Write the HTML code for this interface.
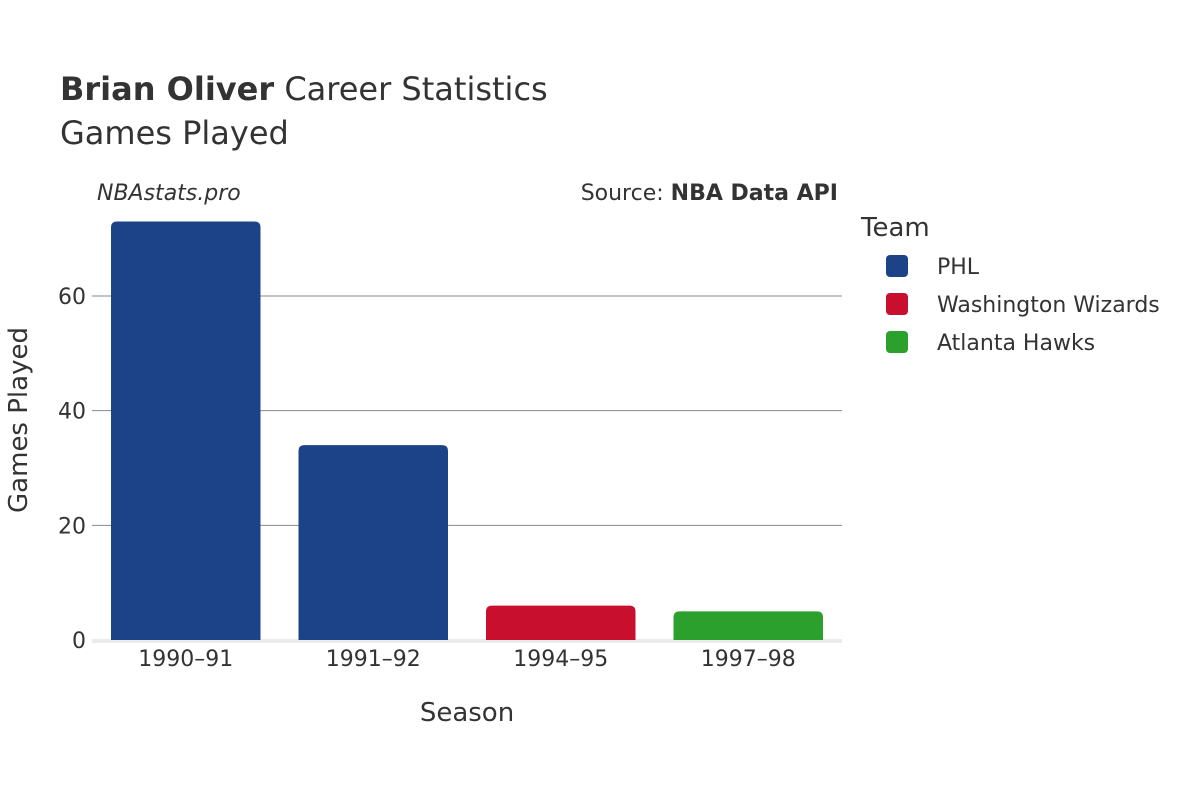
<!DOCTYPE html>
<html><head><meta charset="utf-8"><style>
body{margin:0;background:#fff}
svg{font-family:"DejaVu Sans","Liberation Sans",sans-serif}
</style></head><body>
<svg width="1200" height="800" xmlns="http://www.w3.org/2000/svg" id="chart">
<text x="60" y="100" font-size="32" fill="#333"><tspan font-weight="bold">Brian Oliver</tspan> Career Statistics</text>
<text x="60" y="144" font-size="32" fill="#333">Games Played</text>
<text x="97" y="200" font-size="22" font-style="italic" fill="#333">NBAstats.pro</text>
<text x="838" y="200" font-size="22" fill="#333" text-anchor="end">Source: <tspan font-weight="bold">NBA Data API</tspan></text>
<g id="grid"></g>
<g id="bars"></g>
<g id="xticks"></g>
<text x="467" y="721" font-size="26" fill="#333" text-anchor="middle">Season</text>
<text transform="translate(27,420) rotate(-90)" font-size="26" fill="#333" text-anchor="middle">Games Played</text>
<text x="861" y="236" font-size="26" fill="#333">Team</text>
<g id="legend"></g>
</svg>
<script>
const seasons=["1990–91","1991–92","1994–95","1997–98"];
const games=[73,34,6,5];
const teams=["PHL","PHL","Washington Wizards","Atlanta Hawks"];
const legendTeams=["PHL","Washington Wizards","Atlanta Hawks"];
const yTicks=[0,20,40,60];
const colors={"PHL":"#1c4387","Washington Wizards":"#c8102e","Atlanta Hawks":"#2ca02c"};
const NS="http://www.w3.org/2000/svg";
const x0=92,x1=842,y0=640,yPerUnit=(640-296)/60;
const y=v=>y0-v*yPerUnit;
const band=(x1-x0)/seasons.length;
function mk(tag,attrs,parent){const e=document.createElementNS(NS,tag);for(const k in attrs)e.setAttribute(k,attrs[k]);parent.appendChild(e);return e;}
const grid=document.getElementById('grid');
yTicks.forEach(t=>{
  if(t>0){const l=mk('line',{x1:x0,x2:x1,y1:y(t),y2:y(t),stroke:'#888','stroke-width':1},grid);
  
  }
  const tx=mk('text',{x:86,y:y(t)+8,'font-size':22,fill:'#333','text-anchor':'end'},grid);
  tx.textContent=t;
  
  
});
const zl=mk('line',{x1:x0,x2:x1,y1:y0+1,y2:y0+1,stroke:'#ebebeb','stroke-width':4},grid);


const bars=document.getElementById('bars'),xt=document.getElementById('xticks');
seasons.forEach((s,i)=>{
  const bx=x0+band*i+19,bw=band-38,top=y(games[i]),h=y0-top,r=Math.min(6,h/2);
  const p=mk('path',{d:`M${bx},${y0}V${top+r}Q${bx},${top} ${bx+r},${top}H${bx+bw-r}Q${bx+bw},${top} ${bx+bw},${top+r}V${y0}Z`,fill:colors[teams[i]]},bars);
  
  
  const t=mk('text',{x:x0+band*(i+0.5),y:666,'font-size':22,fill:'#333','text-anchor':'middle'},xt);
  t.textContent=s;
  
  
});
const lg=document.getElementById('legend');
legendTeams.forEach((tm,i)=>{
  const cy=266+i*38;
  const g=mk('g',{},lg);
  
  
  mk('rect',{x:886,y:cy-11,width:22,height:22,rx:4,fill:colors[tm]},g);
  const t=mk('text',{x:937,y:cy+8,'font-size':22,fill:'#333'},g);
  t.textContent=tm;
});
</script>
</body></html>
